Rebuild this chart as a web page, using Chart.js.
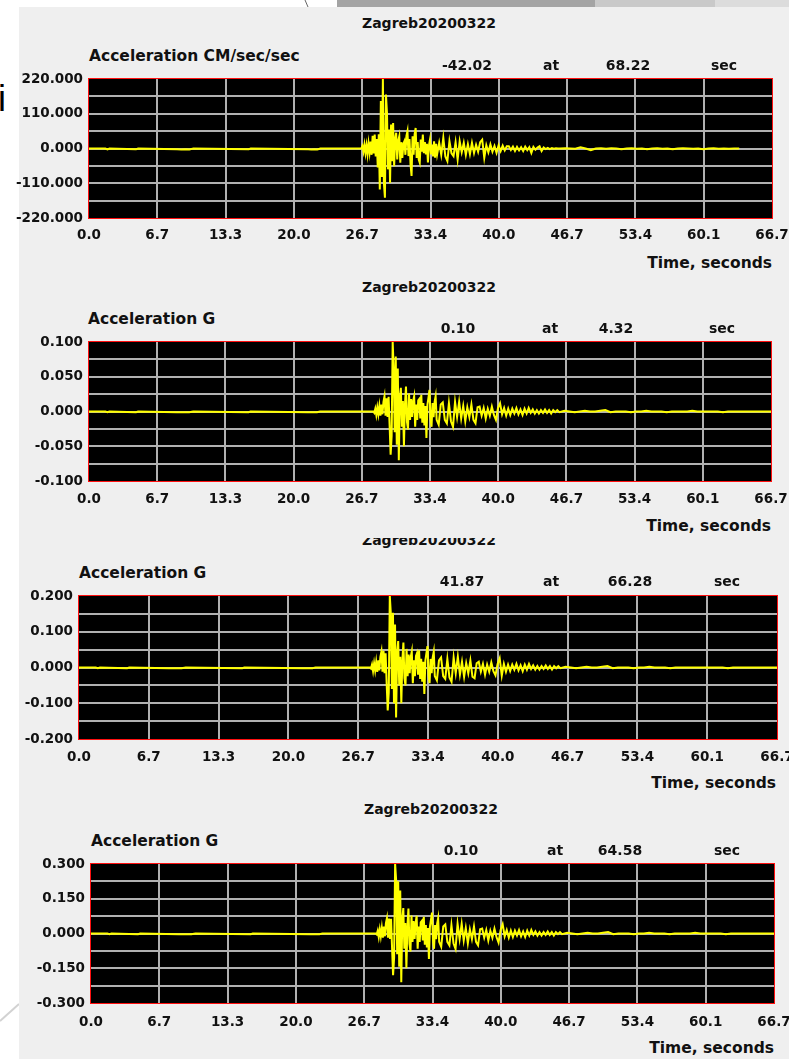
<!doctype html>
<html lang="en">
<head>
<meta charset="UTF-8" />
<title>Zagreb20200322</title>
<style>
  html, body { margin: 0; padding: 0; background: #fff; overflow: hidden; }
  body { width: 789px; height: 1059px; position: relative; font-family: "DejaVu Sans", sans-serif; font-weight: bold; color: #111; }
  .sheet { position: absolute; left: 19px; top: 7px; width: 770px; height: 1052px; background: #efefef; }
  .band { position: absolute; top: 0; height: 7px; }
  .lbl { position: absolute; white-space: nowrap; line-height: 1; font-size: 14px; transform: translateY(-50%); }
  .c { transform: translate(-50%, -50%); }
  .r { transform: translate(-100%, -50%); }
  .big { font-size: 15.5px; }
  .clip { position: absolute; left: 0; width: 789px; overflow: hidden; }
  canvas { position: absolute; left: 0; }
</style>
</head>
<body>
<div class="band" style="left:337px;width:258px;background:#a4a4a4"></div>
<div class="band" style="left:595px;width:120px;background:#c9c9c9"></div>
<div class="band" style="left:715px;width:74px;background:#dcdcdc"></div>
<svg width="789" height="1059" style="position:absolute;left:0;top:0">
  <line x1="305" y1="0" x2="308" y2="7" stroke="#666" stroke-width="1" />
  <line x1="0" y1="1021" x2="19" y2="1004" stroke="#d2d2d2" stroke-width="2" />
</svg>
<div class="sheet"></div>
<div class="lbl" style="left:-2px;top:99px;font-family:'Liberation Sans';font-weight:normal;font-size:36px;color:#000">i</div>

<canvas id="chart1"></canvas>
<canvas id="chart2"></canvas>
<canvas id="chart3"></canvas>
<canvas id="chart4"></canvas>

<!-- panel 1 -->
<div class="lbl c" style="left:429px;top:23px">Zagreb20200322</div>
<div class="lbl big" style="left:89px;top:57px">Acceleration CM/sec/sec</div>
<div class="lbl c" style="left:467px;top:64.5px">-42.02</div>
<div class="lbl c" style="left:551px;top:64.5px">at</div>
<div class="lbl c" style="left:628px;top:64.5px">68.22</div>
<div class="lbl c" style="left:724px;top:64.5px">sec</div>
<div class="lbl r big" style="left:772px;top:263.5px">Time, seconds</div>

<!-- panel 2 -->
<div class="lbl c" style="left:429px;top:287px">Zagreb20200322</div>
<div class="lbl big" style="left:88px;top:320px">Acceleration G</div>
<div class="lbl c" style="left:458px;top:328px">0.10</div>
<div class="lbl c" style="left:550px;top:328px">at</div>
<div class="lbl c" style="left:616px;top:328px">4.32</div>
<div class="lbl c" style="left:722px;top:328px">sec</div>
<div class="lbl r big" style="left:771px;top:527px">Time, seconds</div>

<!-- panel 3 (title partly hidden under the panel above) -->
<div class="clip" style="top:538px;height:12px">
  <div class="lbl c" style="left:429px;top:2px">Zagreb20200322</div>
</div>
<div class="lbl big" style="left:79px;top:573.5px">Acceleration G</div>
<div class="lbl c" style="left:462px;top:581px">41.87</div>
<div class="lbl c" style="left:551px;top:581px">at</div>
<div class="lbl c" style="left:630px;top:581px">66.28</div>
<div class="lbl c" style="left:727px;top:581px">sec</div>
<div class="lbl r big" style="left:776px;top:784px">Time, seconds</div>

<!-- panel 4 -->
<div class="lbl c" style="left:431px;top:808.5px">Zagreb20200322</div>
<div class="lbl big" style="left:91px;top:841.5px">Acceleration G</div>
<div class="lbl c" style="left:461px;top:849.5px">0.10</div>
<div class="lbl c" style="left:555px;top:849.5px">at</div>
<div class="lbl c" style="left:620px;top:849.5px">64.58</div>
<div class="lbl c" style="left:727px;top:849.5px">sec</div>
<div class="lbl r big" style="left:774px;top:1049px">Time, seconds</div>

<script src="https://cdn.jsdelivr.net/npm/chart.js@4.4.1/dist/chart.umd.min.js"></script>
<script>
// sample times (s): quiet part, strong motion every 0.1 s, coda every 0.2 s, tail every 0.5 s
const timeSeconds = [
    0, 1.6, 1.8, 2.0, 4.6, 4.8, 8.6, 9.0, 9.4, 9.8,
    10.2, 15.6, 15.8, 21.4, 21.7, 22.0, 22.3, 22.6, 25.0, 26.5,
    26.6, 26.7, 26.8, 26.9, 27.0, 27.1, 27.2, 27.3, 27.4, 27.5,
    27.6, 27.7, 27.8, 27.9, 28.0, 28.1, 28.2, 28.3, 28.4, 28.5,
    28.6, 28.7, 28.8, 28.9, 29.0, 29.1, 29.2, 29.3, 29.4, 29.5,
    29.6, 29.7, 29.8, 29.9, 30.0, 30.1, 30.2, 30.3, 30.4, 30.5,
    30.6, 30.7, 30.8, 30.9, 31.0, 31.1, 31.2, 31.3, 31.4, 31.5,
    31.6, 31.7, 31.8, 31.9, 32.0, 32.1, 32.2, 32.3, 32.4, 32.5,
    32.6, 32.7, 32.8, 32.9, 33.0, 33.1, 33.2, 33.3, 33.4, 33.5,
    33.6, 33.7, 33.8, 33.9, 34.0,
    34.2, 34.4, 34.6, 34.8, 35.0, 35.2, 35.4, 35.6, 35.8, 36.0,
    36.2, 36.4, 36.6, 36.8, 37.0, 37.2, 37.4, 37.6, 37.8, 38.0,
    38.2, 38.4, 38.6, 38.8, 39.0, 39.2, 39.4, 39.6, 39.8, 40.0,
    40.2, 40.4, 40.6, 40.8, 41.0, 41.2, 41.4, 41.6, 41.8, 42.0,
    42.2, 42.4, 42.6, 42.8, 43.0, 43.2, 43.4, 43.6, 43.8, 44.0,
    44.2, 44.4, 44.6, 44.8, 45.0, 45.2, 45.4, 45.6, 45.8,
    46.0, 46.5, 47.0, 47.5, 48.0, 48.5, 49.0, 49.5, 50.0, 50.5,
    51.0, 51.5, 52.0, 52.5, 53.0, 53.5, 54.0, 54.5, 55.0, 55.5,
    56.0, 56.5, 57.0, 57.5, 58.0, 58.5, 59.0, 59.5, 60.0, 60.5,
    61.0, 61.5, 62.0, 62.5, 63.0, 63.5, 64.0, 64.5, 65.0, 65.5,
    66.0, 66.7
];

// panel 1, cm/sec/sec (record stops near 63.5 s)
const accelCmSec2 = [
    0, 0, -3, 0, -2, 0, -2, -3, -2, -3,
    0, -2, 0, -2, -3, -2, -3, 0, 0, 0,
    0, 8, -10, 12, -14, 10, -18, 16, -12, 22,
    -20, 40, -16, 44, -25, 30, -60, 45, -130, 150,
    -90, 220, -110, -156, 171, 113, -66, 60, -109, 76,
    -40, 81, -56, 30, 50, -35, 25, 39, -45, 20,
    -30, 15, 23, -20, 40, 55, -24, 30, -50, -87,
    39, -20, 45, 65, -30, 20, -35, -45, 28, -10,
    44, -15, 20, -19, 15, -44, 10, 28, -19, 12,
    -25, 23, -29, 15, -18,
    18, -20, 34, -25, -40, 23, -15, -24, 20, -35,
    23, -12, 18, -20, 14, -18, 18, -14, 12, -10,
    20, 28, -30, 10, -12, 13, -10, 8, -14, 10,
    -8, 9, -6, 7, 7, -5, 6, -8, 5, -6,
    4, -8, 6, -5, 4, -14, 5, -4, 3, 7,
    -8, 3, -2, 2, -2, 1, -1, 1, 0,
    0, 1, 0, -1, 4, 0, -5, 0, 1, -1,
    1, 0, -2, 0, 1, -1, 0, -2, 0, 1,
    -1, 0, -2, 0, 1, 0, -1, 0, -2, 0,
    1, -1, 0, -1, 0, 0, null, null, null, null,
    null, null
];

// panel 2, G
const accelG2 = [
    0, 0, -0.001, 0, -0.001, 0, -0.001, -0.001, -0.001, -0.001,
    0, -0.001, 0, -0.001, -0.001, -0.001, -0.001, 0, 0, 0,
    0, 0, 0, 0, 0, 0, 0, 0, 0, 0,
    0, 0, 0, -0.002, 0.004, -0.005, 0.006, -0.004, 0.008, -0.006,
    0.010, -0.004, 0.014, 0.022, -0.006, 0.019, -0.008, 0.021, -0.020, -0.062,
    -0.035, 0.100, 0.060, -0.030, 0.079, -0.048, 0.062, -0.070, 0.020, 0.034,
    -0.022, 0.015, -0.050, 0.010, 0.036, -0.015, -0.026, 0.026, -0.012, 0.018,
    -0.008, 0.015, 0.022, -0.022, 0.010, -0.012, 0.016, 0.018, -0.010, 0.024,
    -0.016, 0.012, -0.020, 0.008, -0.038, 0.010, 0.020, 0.031, -0.010, -0.022,
    0.012, -0.008, 0.014, 0.022, -0.012,
    -0.019, 0.010, 0.013, -0.012, -0.017, 0.012, -0.014, -0.022, 0.014, -0.008,
    0.014, -0.010, 0.008, -0.014, 0.006, -0.008, 0.010, -0.012, -0.017, 0.006,
    0.007, -0.006, 0.005, -0.010, 0.004, -0.006, 0.007, -0.005, -0.012, 0.005,
    0.012, -0.004, 0.005, -0.006, 0.004, -0.005, 0.004, -0.003, 0.005, -0.004,
    0.003, -0.005, 0.004, -0.003, 0.005, -0.002, 0.003, -0.003, 0.002, -0.003,
    0.002, -0.002, 0.003, -0.002, 0.002, -0.003, 0.002, -0.001, 0.002,
    -0.001, 0.001, 0, -0.001, 0, 0.001, 0, 0, 0.001, 0.002,
    -0.001, 0, 0, 0, -0.001, 0, 0, 0.001, 0, 0,
    0, -0.001, 0, 0, 0, 0, 0.001, 0, 0, 0,
    0, 0, -0.001, 0, 0, 0, 0, 0, 0, 0,
    0, 0
];

// panel 3, G
const accelG3 = [
    0, 0, -0.002, 0, -0.002, 0, -0.002, -0.002, -0.002, -0.002,
    0, -0.002, 0, -0.002, -0.002, -0.002, -0.002, 0, 0, 0,
    0, 0, 0, 0, 0, 0, 0, 0, 0, 0,
    0, 0, 0, -0.003, 0.008, -0.010, 0.012, -0.008, 0.016, -0.012,
    0.020, -0.008, 0.030, 0.045, -0.012, 0.047, -0.016, 0.040, -0.045, -0.120,
    -0.070, 0.200, 0.150, -0.060, 0.153, -0.100, 0.120, -0.140, 0.040, 0.074,
    -0.050, 0.030, -0.100, 0.020, 0.070, -0.030, -0.050, 0.052, -0.024, 0.036,
    -0.016, 0.030, 0.045, -0.044, 0.020, -0.024, 0.032, 0.040, -0.020, 0.048,
    -0.032, 0.024, -0.040, 0.016, -0.074, 0.020, 0.040, 0.060, -0.020, -0.044,
    0.024, -0.016, 0.028, 0.044, -0.024,
    -0.036, 0.020, 0.028, -0.024, -0.032, 0.024, -0.028, -0.040, 0.028, -0.016,
    0.030, -0.020, 0.016, -0.026, 0.012, -0.016, 0.020, -0.026, -0.030, 0.012,
    0.016, -0.012, 0.010, -0.020, 0.008, -0.012, 0.014, -0.010, -0.022, 0.010,
    0.026, -0.023, 0.010, -0.012, 0.008, -0.010, 0.008, -0.006, 0.010, -0.008,
    0.006, -0.010, 0.008, -0.006, 0.010, -0.004, 0.006, -0.006, 0.004, -0.006,
    0.004, -0.004, 0.006, -0.004, 0.004, -0.006, 0.004, -0.002, 0.004,
    -0.002, 0.002, 0, -0.002, 0, 0.002, 0, 0, 0.002, 0.004,
    -0.002, 0, 0, 0, -0.002, 0, 0, 0.002, 0, 0,
    0, -0.002, 0, 0, 0, 0, 0, 0, 0, 0,
    0, 0, -0.002, 0, 0, 0, 0, 0, 0, 0,
    0, 0
];

// panel 4, G
const accelG4 = [
    0, 0, -0.003, 0, -0.003, 0, -0.003, -0.003, -0.003, -0.003,
    0, -0.003, 0, -0.003, -0.003, -0.003, -0.003, 0, 0, 0,
    0, 0, 0, 0, 0, 0, 0, 0, 0, 0,
    0, 0, 0, -0.004, 0.012, -0.015, 0.018, -0.012, 0.024, -0.018,
    0.030, -0.012, 0.045, 0.066, -0.018, 0.064, -0.024, 0.063, -0.060, -0.180,
    -0.105, 0.300, 0.230, -0.090, 0.225, -0.144, 0.186, -0.210, 0.060, 0.110,
    -0.066, 0.045, -0.150, 0.030, 0.108, -0.045, -0.078, 0.078, -0.036, 0.054,
    -0.024, 0.045, 0.076, -0.066, 0.030, -0.036, 0.048, 0.054, -0.030, 0.072,
    -0.048, 0.036, -0.060, 0.024, -0.110, 0.030, 0.060, 0.090, -0.030, -0.066,
    0.036, -0.024, 0.042, 0.066, -0.036,
    -0.057, 0.030, 0.039, -0.036, -0.051, 0.036, -0.042, -0.066, 0.042, -0.024,
    0.042, -0.030, 0.024, -0.042, 0.018, -0.024, 0.030, -0.036, -0.051, 0.018,
    0.021, -0.018, 0.015, -0.030, 0.012, -0.018, 0.021, -0.015, -0.039, 0.015,
    0.040, -0.012, 0.015, -0.018, 0.012, -0.015, 0.012, -0.009, 0.015, -0.012,
    0.009, -0.015, 0.012, -0.009, 0.015, -0.006, 0.009, -0.009, 0.006, -0.009,
    0.006, -0.006, 0.009, -0.006, 0.006, -0.009, 0.006, -0.003, 0.006,
    -0.003, 0.003, 0, -0.003, 0, 0.003, 0, 0, 0.003, 0.006,
    -0.003, 0, 0, 0, -0.003, 0, 0, 0.003, 0, 0,
    0, -0.003, 0, 0, 0, 0, 0.003, 0, 0, 0,
    0, 0, -0.003, 0, 0, 0, 0, 0, 0, 0,
    0, 0
];

const timeTickLabels = ["0.0", "6.7", "13.3", "20.0", "26.7", "33.4", "40.0", "46.7", "53.4", "60.1", "66.7"];

// nine grid lines per panel, bottom to top; only every other one is labelled
const yTickLabels1 = ["-220.000", "", "-110.000", "", "0.000", "", "110.000", "", "220.000"];
const yTickLabels2 = ["-0.100", "", "-0.050", "", "0.000", "", "0.050", "", "0.100"];
const yTickLabels3 = ["-0.200", "", "-0.100", "", "0.000", "", "0.100", "", "0.200"];
const yTickLabels4 = ["-0.300", "", "-0.150", "", "0.000", "", "0.150", "", "0.300"];

const X_MAX = 66.7;

// where each plot box sits on the page
const panels = [
    { id: "chart1", values: accelCmSec2, yMax: 220, yLabels: yTickLabels1, left: 89, right: 772, top: 79, bottom: 218, tickPad: 9 },
    { id: "chart2", values: accelG2, yMax: 0.1, yLabels: yTickLabels2, left: 89, right: 771, top: 342, bottom: 481, tickPad: 10 },
    { id: "chart3", values: accelG3, yMax: 0.2, yLabels: yTickLabels3, left: 79, right: 777, top: 596, bottom: 739, tickPad: 10 },
    { id: "chart4", values: accelG4, yMax: 0.3, yLabels: yTickLabels4, left: 91, right: 774, top: 864, bottom: 1003, tickPad: 11 },
];

const PAD_TOP = 10;
const AXIS_H = 32;
const PAGE_W = 789;

// black plot box with a thin red frame
const plotFrame = {
    id: "plotFrame",
    beforeDraw(chart) {
        const { ctx, chartArea: a } = chart;
        ctx.save();
        ctx.fillStyle = "#000";
        ctx.fillRect(a.left, a.top, a.right - a.left, a.bottom - a.top);
        ctx.restore();
    },
    beforeDatasetsDraw(chart) {
        const { ctx, chartArea: a } = chart;
        ctx.save();
        ctx.strokeStyle = "#ff1010";
        ctx.lineWidth = 1;
        ctx.strokeRect(a.left - 0.5, a.top - 0.5, a.right - a.left + 1, a.bottom - a.top + 1);
        ctx.restore();
    },
};

const tickFont = { family: "DejaVu Sans", weight: "bold", size: 13.5 };

function gridColor(ctx) {
    const n = ctx.scale.ticks.length;
    return ctx.index === 0 || ctx.index === n - 1 ? "rgba(0,0,0,0)" : "#b0b0b0";
}

function makePanel(p) {
    const canvas = document.getElementById(p.id);
    canvas.width = PAGE_W;
    canvas.height = p.bottom - p.top + PAD_TOP + AXIS_H;
    canvas.style.top = p.top - PAD_TOP + "px";

    if (p.values.length !== timeSeconds.length) {
        console.warn(p.id, "length", p.values.length, "vs", timeSeconds.length);
    }
    const points = timeSeconds.map((t, i) => ({ x: t, y: p.values[i] }));

    new Chart(canvas, {
        type: "line",
        data: {
            datasets: [
                {
                    data: points,
                    borderColor: "#ffff00",
                    borderWidth: 2,
                    pointRadius: 0,
                    tension: 0,
                    fill: false,
                    spanGaps: false,
                },
            ],
        },
        options: {
            responsive: false,
            animation: false,
            events: [],
            layout: { padding: { left: 0, top: PAD_TOP, right: PAGE_W - p.right, bottom: 0 } },
            plugins: { legend: { display: false }, tooltip: { enabled: false } },
            scales: {
                x: {
                    type: "linear",
                    min: 0,
                    max: X_MAX,
                    border: { display: false },
                    grid: { color: gridColor, lineWidth: 2, drawTicks: false },
                    ticks: {
                        autoSkip: false,
                        maxRotation: 0,
                        padding: p.tickPad,
                        color: "#111",
                        font: tickFont,
                        callback: (v, i) => timeTickLabels[i],
                    },
                    afterBuildTicks: (s) => {
                        s.ticks = timeTickLabels.map((_, i) => ({ value: (i * X_MAX) / 10 }));
                    },
                    afterFit: (s) => {
                        s.height = AXIS_H;
                        s.paddingLeft = 0;
                        s.paddingRight = 0;
                    },
                },
                y: {
                    min: -p.yMax,
                    max: p.yMax,
                    border: { display: false },
                    grid: { color: gridColor, lineWidth: 2, drawTicks: false },
                    ticks: {
                        autoSkip: false,
                        padding: 6,
                        color: "#111",
                        font: tickFont,
                        callback: (v, i) => p.yLabels[i],
                    },
                    afterBuildTicks: (s) => {
                        s.ticks = p.yLabels.map((_, i) => ({ value: -p.yMax + (i * p.yMax) / 4 }));
                    },
                    afterFit: (s) => {
                        s.width = p.left;
                        s.paddingTop = 0;
                        s.paddingBottom = 0;
                    },
                },
            },
        },
        plugins: [plotFrame],
    });
}

panels.forEach(makePanel);
</script>
</body>
</html>
